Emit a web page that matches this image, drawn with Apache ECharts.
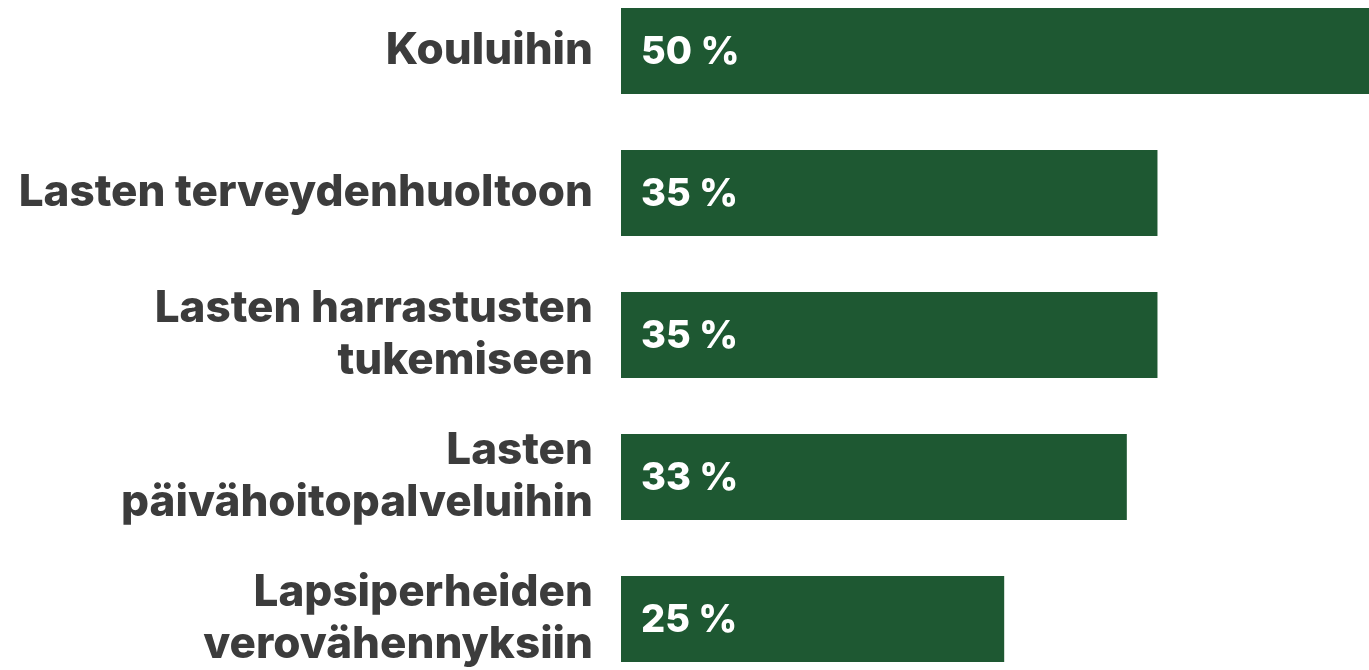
<!DOCTYPE html>
<html>
<head>
<meta charset="utf-8">
<style>
  html, body { margin: 0; padding: 0; background: #fff; overflow: hidden; }
  /* kaavio hieman ikkunaa korkeampi: ylin ja alin kaista leikkautuvat */
  #chart { width: 1369px; height: 710px; margin-top: -20px; }
</style>
<script src="https://cdn.jsdelivr.net/npm/echarts@6/dist/echarts.min.js"></script>
</head>
<body>
<div id="chart"></div>
<script>
// kategoriat ja arvot (%)
var categories = [
    'Kouluihin',
    'Lasten terveydenhuoltoon',
    'Lasten harrastusten\ntukemiseen',
    'Lasten\npäivähoitopalveluihin',
    'Lapsiperheiden\nverovähennyksiin'
];
var values = [50, 35, 35, 33, 25];

var chart = echarts.init(document.getElementById('chart'));

var option = {
    animation: false,
    grid: {
        left: 621,
        right: 0,
        top: 0,
        bottom: 0
    },
    xAxis: {
        type: 'value',
        min: 0,
        max: 48.8,   // ylin palkki leikkautuu oikeaan reunaan
        show: false
    },
    yAxis: {
        type: 'category',
        inverse: true,
        data: categories,
        axisLine: { show: false },
        axisTick: { show: false },
        axisLabel: {
            margin: 28,
            color: '#3c3c3c',
            fontFamily: 'Inter',
            fontWeight: 800,
            fontSize: 44,
            lineHeight: 52
        }
    },
    series: [{
        type: 'bar',
        data: values,
        barWidth: 86,
        itemStyle: { color: '#1e5832' },
        label: {
            show: true,
            position: 'insideLeft',
            distance: 20,
            offset: [0, 2],
            formatter: '{c} %',
            color: '#ffffff',
            fontFamily: 'Inter',
            fontWeight: 800,
            fontSize: 38
        }
    }]
};

chart.setOption(option);
</script>
</body>
</html>
